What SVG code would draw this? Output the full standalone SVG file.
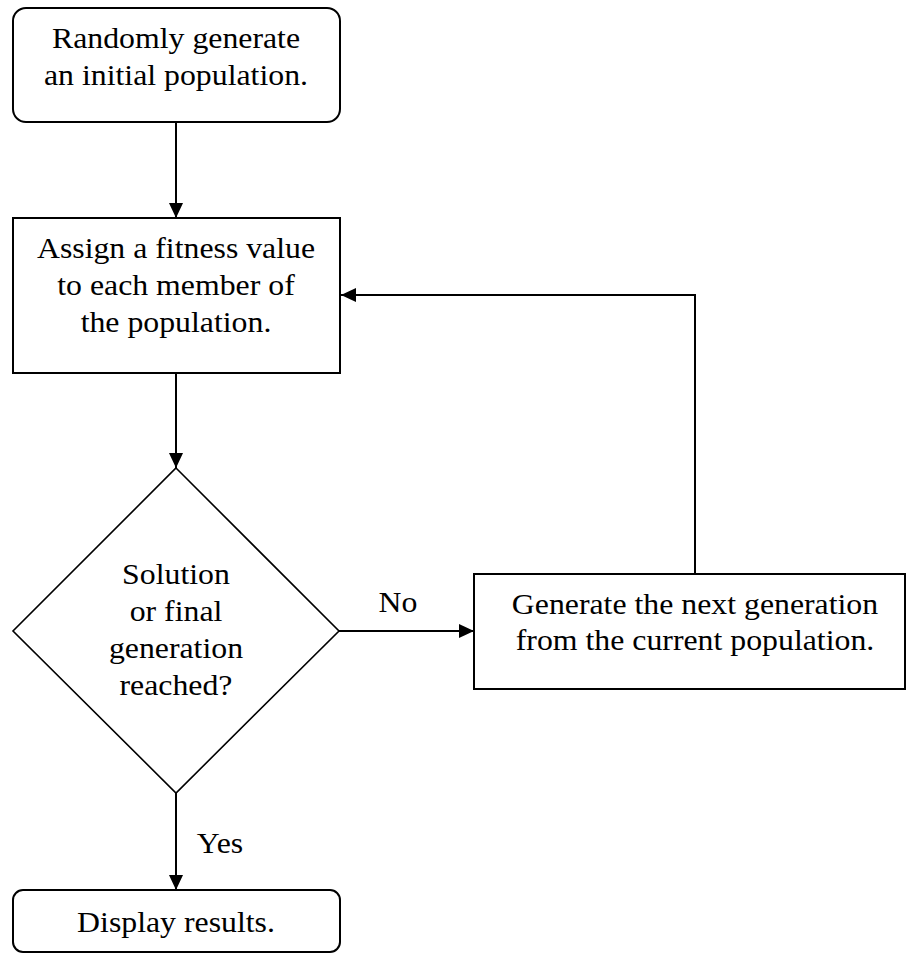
<svg xmlns="http://www.w3.org/2000/svg" width="906" height="955" viewBox="0 0 906 955">
<defs>
<style>
.box{fill:#fff;stroke:#000;stroke-width:2}
.dia{fill:#fff;stroke:#000;stroke-width:1.6}
.con{fill:none;stroke:#000;stroke-width:2}
text{font-size:30px;fill:#000;text-anchor:middle}
</style>
<marker id="ah" markerUnits="userSpaceOnUse" markerWidth="16" markerHeight="14" refX="15" refY="7" orient="auto">
<path d="M0,0 L15,7 L0,14 z" fill="#000"/>
</marker>
</defs>
<g font-family="Liberation Serif, Times New Roman, serif">
<g id="connectors">
<line class="con" x1="176" y1="122" x2="176" y2="218" marker-end="url(#ah)"/>
<line class="con" x1="176" y1="373" x2="176" y2="468" marker-end="url(#ah)"/>
<line class="con" x1="339" y1="631" x2="474" y2="631" marker-end="url(#ah)"/>
<path class="con" d="M695,574 V295 H341" marker-end="url(#ah)"/>
<line class="con" x1="176" y1="793" x2="176" y2="890" marker-end="url(#ah)"/>
<text transform="translate(398,612) scale(1.06,1)">No</text>
<text transform="translate(220,853) scale(1.06,1)">Yes</text>
</g>
<g id="start">
<rect class="box" x="13" y="8" width="327" height="114" rx="13"/>
<text transform="translate(176,48) scale(1.06,1)">Randomly generate</text>
<text transform="translate(176,85) scale(1.06,1)">an initial population.</text>
</g>
<g id="fitness">
<rect class="box" x="13" y="218" width="327" height="155"/>
<text transform="translate(176,258) scale(1.06,1)">Assign a fitness value</text>
<text transform="translate(176,295) scale(1.06,1)">to each member of</text>
<text transform="translate(176,332) scale(1.06,1)">the population.</text>
</g>
<g id="decision">
<polygon class="dia" points="176,468 339,631 176,793 13,631"/>
<text transform="translate(176,584) scale(1.06,1)">Solution</text>
<text transform="translate(176,621) scale(1.06,1)">or final</text>
<text transform="translate(176,658) scale(1.06,1)">generation</text>
<text transform="translate(176,695) scale(1.06,1)">reached?</text>
</g>
<g id="nextgen">
<rect class="box" x="474" y="574" width="431" height="115"/>
<text transform="translate(695,614) scale(1.06,1)">Generate the next generation</text>
<text transform="translate(695,650) scale(1.06,1)">from the current population.</text>
</g>
<g id="display">
<rect class="box" x="13" y="890" width="327" height="62" rx="10"/>
<text transform="translate(176,932) scale(1.06,1)">Display results.</text>
</g>
</g>
</svg>
